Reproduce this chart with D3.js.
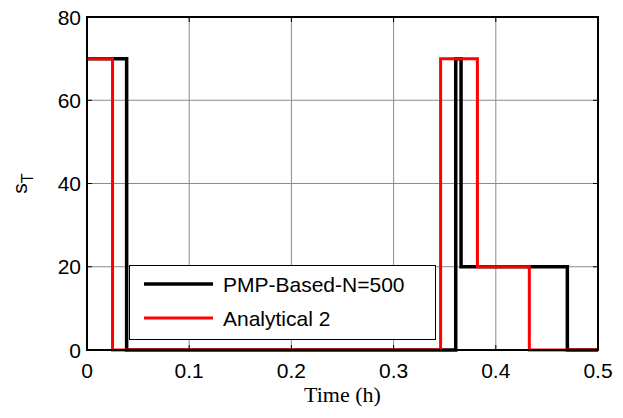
<!DOCTYPE html>
<html>
<head>
<meta charset="utf-8">
<script src="https://cdn.jsdelivr.net/npm/d3@7"></script>
<style>
  body { margin: 0; background: #fff; }
  text { font-family: Arial, "Liberation Sans", sans-serif; }
</style>
</head>
<body>
<script>
// step change times (h) and the level held after each time
const pmpTimes = [0, 0.0388, 0.3608, 0.366, 0.470, 0.5];
const pmpValues = [70, 0, 70, 20, 0];
const anaTimes = [0, 0.025, 0.346, 0.382, 0.4328, 0.5];
const anaValues = [70, 0, 70, 20, 0];
const xTicks = [0, 0.1, 0.2, 0.3, 0.4, 0.5];
const yTicks = [0, 20, 40, 60, 80];
const seriesNames = ["PMP-Based-N=500", "Analytical 2"];

const width = 623, height = 418;
const margin = { top: 17, right: 25, bottom: 68, left: 87 };

const svg = d3.select("body").append("svg")
    .attr("width", width)
    .attr("height", height);

const x = d3.scaleLinear().domain([0, 0.5]).range([margin.left, width - margin.right]);
const y = d3.scaleLinear().domain([0, 80]).range([height - margin.bottom, margin.top]);

// grid
svg.append("g").selectAll("line").data(xTicks.slice(1, -1)).join("line")
    .attr("x1", d => x(d)).attr("x2", d => x(d))
    .attr("y1", y(0)).attr("y2", y(80))
    .attr("stroke", "#8c8c8c").attr("stroke-width", 1);
svg.append("g").selectAll("line").data(yTicks.slice(1, -1)).join("line")
    .attr("x1", x(0)).attr("x2", x(0.5))
    .attr("y1", d => y(d)).attr("y2", d => y(d))
    .attr("stroke", "#8c8c8c").attr("stroke-width", 1);

// ticks inward on all four sides
const tickLen = 5;
const ticks = svg.append("g").attr("stroke", "#000").attr("stroke-width", 1);
xTicks.forEach(t => {
    ticks.append("line").attr("x1", x(t)).attr("x2", x(t)).attr("y1", y(0)).attr("y2", y(0) - tickLen);
    ticks.append("line").attr("x1", x(t)).attr("x2", x(t)).attr("y1", y(80)).attr("y2", y(80) + tickLen);
});
yTicks.forEach(v => {
    ticks.append("line").attr("x1", x(0)).attr("x2", x(0) + tickLen).attr("y1", y(v)).attr("y2", y(v));
    ticks.append("line").attr("x1", x(0.5)).attr("x2", x(0.5) - tickLen).attr("y1", y(v)).attr("y2", y(v));
});

// tick labels
svg.append("g").selectAll("text").data(xTicks).join("text")
    .attr("x", d => x(d)).attr("y", 378)
    .attr("text-anchor", "middle")
    .attr("font-size", 21)
    .text(d => d === 0 ? "0" : d3.format(".1f")(d));
svg.append("g").selectAll("text").data(yTicks).join("text")
    .attr("x", x(0) - 6).attr("y", d => y(d))
    .attr("dy", "0.36em")
    .attr("text-anchor", "end")
    .attr("font-size", 21)
    .text(d => d);

// axis titles
svg.append("text")
    .attr("x", x(0.25)).attr("y", 402)
    .attr("text-anchor", "middle")
    .attr("font-family", "'Liberation Serif', 'Times New Roman', serif")
    .style("font-family", "'Liberation Serif', 'Times New Roman', serif")
    .attr("font-size", 22)
    .text("Time (h)");
const yl = svg.append("text")
    .attr("transform", `translate(27, ${(y(0) + y(80)) / 2}) rotate(-90)`)
    .attr("text-anchor", "middle")
    .attr("font-size", 21);
yl.append("tspan").text("s");
yl.append("tspan").attr("font-size", 16).attr("dy", 6).text("T");

// step lines
const line = d3.line().x(d => x(d[0])).y(d => y(d[1])).curve(d3.curveStepAfter);
function stepPoints(times, values) {
    return times.map((t, i) => [t, values[Math.min(i, values.length - 1)]]);
}
svg.append("path")
    .datum(stepPoints(pmpTimes, pmpValues))
    .attr("d", line)
    .attr("fill", "none").attr("stroke", "#000").attr("stroke-width", 3.5);
svg.append("path")
    .datum(stepPoints(anaTimes, anaValues))
    .attr("d", line)
    .attr("fill", "none").attr("stroke", "#ff0000").attr("stroke-width", 3);

// axes box
svg.append("rect")
    .attr("x", x(0)).attr("y", y(80))
    .attr("width", x(0.5) - x(0)).attr("height", y(0) - y(80))
    .attr("fill", "none").attr("stroke", "#000").attr("stroke-width", 2);

// legend
const lg = svg.append("g");
lg.append("rect")
    .attr("x", 129.5).attr("y", 265.5).attr("width", 306).attr("height", 74)
    .attr("fill", "#fff").attr("stroke", "#000").attr("stroke-width", 1);
const legendColors = ["#000", "#ff0000"];
seriesNames.forEach((name, i) => {
    const ly = 284 + i * 34;
    lg.append("line")
        .attr("x1", 144).attr("x2", 213).attr("y1", ly).attr("y2", ly)
        .attr("stroke", legendColors[i]).attr("stroke-width", i === 0 ? 3.5 : 3);
    lg.append("text")
        .attr("x", 223).attr("y", ly).attr("dy", "0.36em")
        .attr("font-size", 21)
        .text(name);
});
</script>
</body>
</html>
